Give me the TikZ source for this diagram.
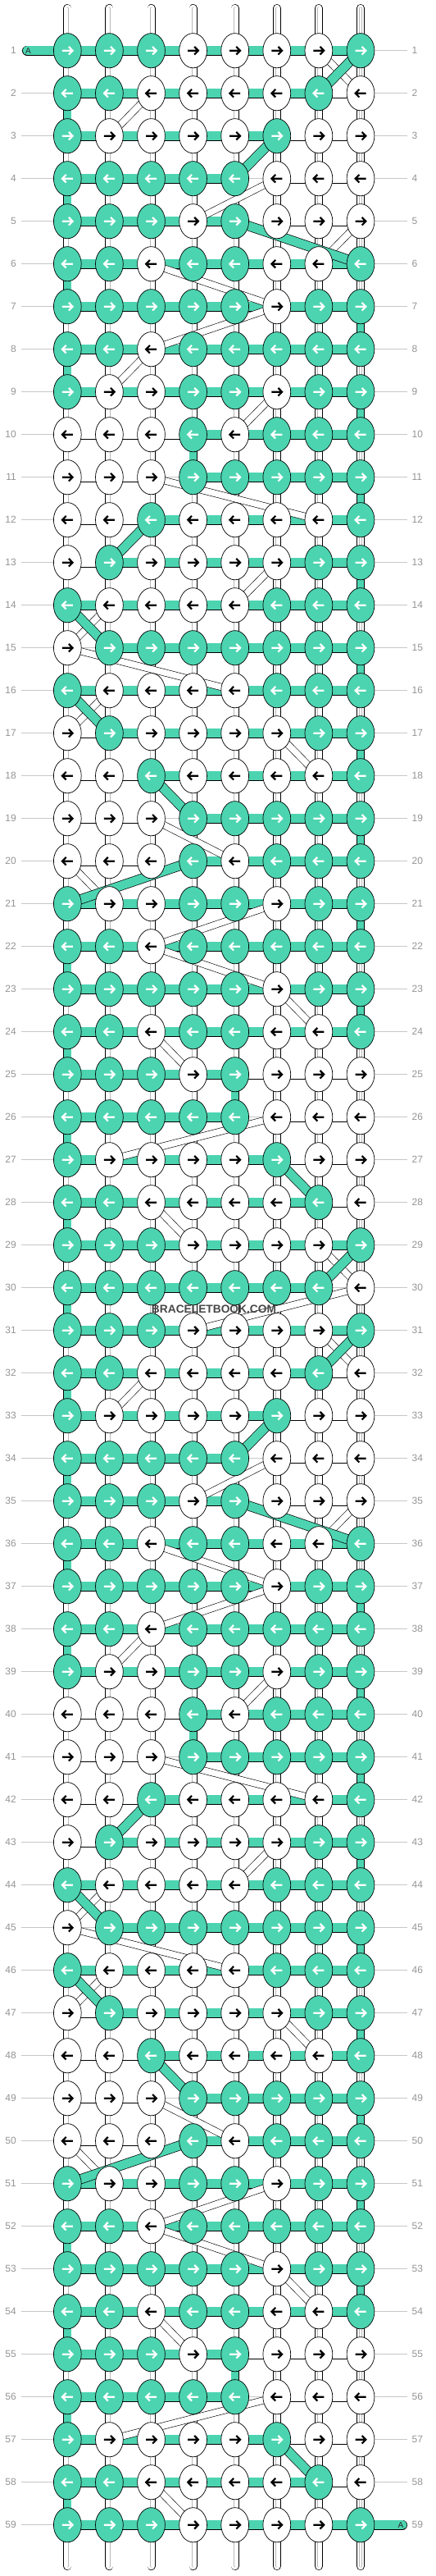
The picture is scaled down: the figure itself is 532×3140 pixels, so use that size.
\documentclass[tikz,border=0pt]{standalone}
\usepackage{fontspec}
\setmainfont{Liberation Sans}
\usetikzlibrary{shapes.geometric}
\definecolor{ag}{HTML}{4CD4B0}
\pgfdeclarelayer{back}
\pgfdeclarelayer{mid}
\pgfsetlayers{back,mid,main}
\def\BBrow#1#2#3#4{\expandafter\def\csname kc#1\endcsname{#2}\expandafter\def\csname lk#1\endcsname{#3}\expandafter\def\csname gs#1\endcsname{#4}}
\BBrow{1}{1,1,1,0,0,0,0,1}{G,G,G,G,G,G,G}{0}
\BBrow{2}{1,1,0,0,0,0,1,0}{G,G,G,G,G,G,W}{1}
\BBrow{3}{1,0,0,0,0,1,0,0}{G,G,G,G,G,W,W}{0}
\BBrow{4}{1,1,1,1,1,0,0,0}{G,G,G,G,N,W,W}{1}
\BBrow{5}{1,1,1,0,1,0,0,0}{G,G,G,G,W,W,W}{0}
\BBrow{6}{1,1,0,1,1,0,0,1}{G,G,G,G,G,G,G}{1}
\BBrow{7}{1,1,1,1,1,0,1,1}{G,G,G,G,G,G,G}{8}
\BBrow{8}{1,1,0,1,1,1,1,1}{G,G,G,G,G,G,G}{1}
\BBrow{9}{1,0,0,1,1,0,1,1}{G,G,G,G,G,G,G}{8}
\BBrow{10}{0,0,0,1,0,1,1,1}{W,W,W,G,G,G,G}{4}
\BBrow{11}{0,0,0,1,1,1,1,1}{W,W,N,G,G,G,G}{8}
\BBrow{12}{0,0,1,0,0,0,0,1}{W,W,G,G,G,G,G}{0}
\BBrow{13}{0,1,0,0,0,0,1,1}{W,G,G,G,G,G,G}{8}
\BBrow{14}{1,0,0,0,0,1,1,1}{G,G,G,G,G,G,G}{0}
\BBrow{15}{0,1,1,1,1,1,1,1}{N,G,G,G,G,G,G}{8}
\BBrow{16}{1,0,0,0,0,1,1,1}{G,G,G,G,G,G,G}{0}
\BBrow{17}{0,1,0,0,0,0,1,1}{W,G,G,G,G,G,G}{8}
\BBrow{18}{0,0,1,0,0,0,0,1}{W,W,G,G,G,G,G}{0}
\BBrow{19}{0,0,0,1,1,1,1,1}{W,W,N,G,G,G,G}{8}
\BBrow{20}{0,0,0,1,0,1,1,1}{W,W,W,G,G,G,G}{0}
\BBrow{21}{1,0,0,1,1,0,1,1}{G,G,G,G,G,G,G}{8}
\BBrow{22}{1,1,0,1,1,1,1,1}{G,G,G,G,G,G,G}{1}
\BBrow{23}{1,1,1,1,1,0,1,1}{G,G,G,G,G,G,G}{8}
\BBrow{24}{1,1,0,1,1,0,0,1}{G,G,G,G,G,G,G}{1}
\BBrow{25}{1,1,1,0,1,0,0,0}{G,G,G,G,W,W,W}{5}
\BBrow{26}{1,1,1,1,1,0,0,0}{G,G,G,G,N,W,W}{1}
\BBrow{27}{1,0,0,0,0,1,0,0}{G,G,G,G,G,W,W}{0}
\BBrow{28}{1,1,0,0,0,0,1,0}{G,G,G,G,G,G,W}{1}
\BBrow{29}{1,1,1,0,0,0,0,1}{G,G,G,G,G,G,G}{0}
\BBrow{30}{1,1,1,1,1,1,1,0}{G,G,G,G,G,G,N}{1}
\def\gdiags{1/8/7, 3/6/5, 5/5/8, 12/3/2, 14/1/2, 16/1/2, 18/3/4, 20/4/1, 27/6/7, 29/8/7}
\def\wdiags{1/7/8, 2/3/2, 4/6/4, 5/8/7, 6/3/6, 7/6/3, 8/3/2, 9/6/5, 11/3/7, 13/6/5, 14/2/1, 15/1/5, 16/2/1, 17/6/7, 19/3/5, 20/1/2, 21/6/3, 22/3/6, 23/6/7, 24/3/4, 26/6/2, 28/3/4, 29/7/8, 30/8/4}
\begin{document}
\begin{tikzpicture}[x=1pt,y=-1pt,
  knot/.style={ellipse, draw=black, line width=.7pt, minimum width=33.8pt, minimum height=42.2pt, inner sep=0pt},
  arr/.style={line width=2.2pt, line cap=butt, line join=miter},
  lab/.style={inner sep=0pt, text=black!42, font=\fontsize{12}{12}\selectfont},
  rowline/.style={draw=black!22, line width=.9pt},
  gband/.style={draw=black, line width=.7pt, double=ag, double distance=10.6pt},
  wband/.style={draw=black, line width=.7pt, double=white, double distance=10.6pt},
  gstub/.style={draw=black, line width=.7pt, double=ag, double distance=8.6pt},
  wstub/.style={draw=black, line width=.7pt, double=white, double distance=8.6pt},
  wstubin/.style={draw=black!28, line width=.55pt, double=white, double distance=2pt},
  wdiag/.style={draw=black, line width=.6pt, double=white, double distance=7.6pt},
  gdiag/.style={draw=black, line width=.7pt, double=ag, double distance=10.6pt},
  atext/.style={inner sep=0pt, text=black!85, font=\fontsize{10}{10}\selectfont},
  wmark/.style={inner sep=0pt, text=black!72, font=\bfseries\fontsize{13.75}{14}\selectfont}
]
\useasboundingbox (0,0) rectangle (532,3140);
% knots, arrows, labels
\foreach \rr in {1,...,59}{
  \pgfmathtruncatemacro\bb{\rr>30 ? \rr-30 : \rr}
  \edef\kclist{\csname kc\bb\endcsname}
  \pgfmathsetmacro\Y{61.7+(\rr-1)*52}
  \ifodd\rr \def\dir{1}\else\def\dir{-1}\fi
  \foreach \v [count=\cc] in \kclist {
    \pgfmathsetmacro\X{82.3+(\cc-1)*51.1}
    \ifnum\v=1 \def\kf{ag}\def\ac{white}\else\def\kf{white}\def\ac{black}\fi
    \node[knot, fill=\kf] (k-\rr-\cc) at (\X,\Y) {};
    \draw[arr, draw=\ac, shift={(\X,\Y)}, xscale=\dir] (-6.5,0) -- (6.3,0) (1.6,-4.8) -- (6.3,0) -- (1.6,4.8);
  }
  \node[lab, anchor=east] (ll-\rr) at (20,\Y) {\rr};
  \node[lab, anchor=west] (rl-\rr) at (502.5,\Y) {\rr};
}
\begin{pgfonlayer}{back}
  \foreach \rr in {1,...,59}{
    \draw[rowline] ([xshift=6pt]ll-\rr.east) -- ([xshift=-5.5pt]rl-\rr.west);
  }
  % top and bottom string ends
  \foreach \cc in {1,...,8}{
    \pgfmathsetmacro\X{82.3+(\cc-1)*51.1}
    \coordinate (top-\cc) at (\X,10);
    \coordinate (bot-\cc) at (\X,3128);
    \draw[wstub, line cap=round] (top-\cc) -- (k-1-\cc.center);
    \draw[wstubin, line cap=round] (top-\cc) -- (k-1-\cc.center);
    \draw[wstub, line cap=round] (bot-\cc) -- (k-59-\cc.center);
    \draw[wstubin, line cap=round] (bot-\cc) -- (k-59-\cc.center);
  }
  % vertical stubs between rows
  \foreach \rr in {1,...,58}{
    \pgfmathtruncatemacro\bb{\rr>30 ? \rr-30 : \rr}
    \pgfmathtruncatemacro\rn{\rr+1}
    \edef\gscol{\csname gs\bb\endcsname}
    \foreach \cc in {1,...,8}{
      \ifnum\cc=\gscol
        \draw[gstub] (k-\rr-\cc.center) -- (k-\rn-\cc.center);
      \else
        \draw[wstub] (k-\rr-\cc.center) -- (k-\rn-\cc.center);
        \draw[wstubin] (k-\rr-\cc.center) -- (k-\rn-\cc.center);
      \fi
    }
  }
  % horizontal links
  \foreach \rr in {1,...,59}{
    \pgfmathtruncatemacro\bb{\rr>30 ? \rr-30 : \rr}
    \edef\lklist{\csname lk\bb\endcsname}
    \foreach \lt [count=\cc] in \lklist {
      \pgfmathtruncatemacro\cn{\cc+1}
      \if\lt G \draw[gband] (k-\rr-\cc.center) -- (k-\rr-\cn.center);\fi
      \if\lt W \draw[wband] (k-\rr-\cc.center) -- (k-\rr-\cn.center);\fi
    }
  }
  % the A string
  \coordinate (ain) at (33,61.7);
  \coordinate (aout) at (491,3077.7);
  \draw[gband, line cap=round] (ain) -- (k-1-1.center);
  \draw[gband, line cap=round] (aout) -- (k-59-8.center);
\end{pgfonlayer}
\begin{pgfonlayer}{mid}
  \foreach \off in {0,30}{
    \foreach \bb/\ca/\cb in \wdiags {
      \pgfmathtruncatemacro\ra{\bb+\off}
      \pgfmathtruncatemacro\rb{\ra+1}
      \ifnum\rb<60 \draw[wdiag] (k-\ra-\ca.center) -- (k-\rb-\cb.center);\fi
    }
  }
  \foreach \off in {0,30}{
    \foreach \bb/\ca/\cb in \gdiags {
      \pgfmathtruncatemacro\ra{\bb+\off}
      \pgfmathtruncatemacro\rb{\ra+1}
      \ifnum\rb<60 \draw[gdiag] (k-\ra-\ca.center) -- (k-\rb-\cb.center);\fi
    }
  }
\end{pgfonlayer}
\node[atext] (a-in) at (34.5,61.7) {A};
\node[atext] (a-out) at (489,3077.7) {A};
\node[wmark] (wm) at (261,1596) {BRACELETBOOK.COM};
\end{tikzpicture}
\end{document}
